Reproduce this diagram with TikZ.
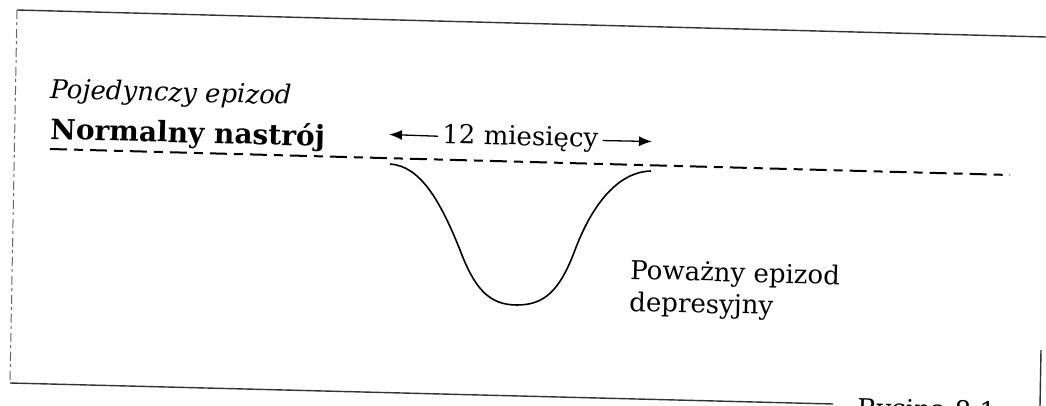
\documentclass[tikz,border=0pt]{standalone}
\usepackage{fontspec}
\setmainfont{DejaVu Serif}
\usetikzlibrary{arrows.meta}
\tikzset{
  txt/.style={inner sep=0pt, rotate=-1.5, anchor=base west, font=\fontsize{26}{30}\selectfont},
  border/.style={line width=1.4pt, black!80},
  faint/.style={line width=1pt, black!60, dash pattern=on 9pt off 3pt on 3pt off 4pt},
  baseline dash/.style={line width=2pt, dash pattern=on 17pt off 7pt on 9pt off 7pt},
  span arrow/.style={line width=1.3pt, -{Latex[length=13pt,width=10pt]}},
  curve/.style={line width=1.6pt}
}
\begin{document}
\begin{tikzpicture}[x=1pt,y=-1pt]
\useasboundingbox (0,0) rectangle (1046,406);
\clip (0,0) rectangle (1046,406);
% frame (scanned page edges)
\coordinate (tl) at (17,10);
\coordinate (tr) at (1046,37);
\coordinate (bl) at (10,383);
\coordinate (br) at (833,404);
\coordinate (rt) at (1041,350);
\coordinate (rb) at (1040,406);
\draw[border] (tl) -- (tr);
\draw[faint] (tl) -- (bl);
\draw[border] (bl) -- (br);
\draw[border] (rt) -- (rb);
% texts
\node[txt, font=\fontsize{26}{30}\selectfont\itshape] (title) at (50,98) {Pojedynczy epizod};
\node[txt, font=\fontsize{28}{32}\selectfont\bfseries] (normal) at (50,139) {Normalny nastrój};
\node[txt, inner xsep=4pt] (months) at (438,143) {12 miesięcy};
\node[txt] (major1) at (630,279) {Poważny epizod};
\node[txt] (major2) at (629,311) {depresyjny};
\node[txt] (fig) at (857,417) {Rycina 8.1};
% normal mood line
\coordinate (dl) at (50,149);
\coordinate (dr) at (1010,175);
\draw[baseline dash] (dl) -- (dr);
% 12 months arrows
\coordinate (al) at (389,134.5);
\coordinate (ar) at (652,141.5);
\draw[span arrow] (months.west) -- (al);
\draw[span arrow] (months.east) -- (ar);
% depressive episode curve
\coordinate (c0) at (390,164);
\coordinate (c1) at (460,250);
\coordinate (c2) at (517,305);
\coordinate (c3) at (575,250);
\coordinate (c4) at (651,171);
\draw[curve] (c0) .. controls (420,166) and (440,200) .. (c1)
  .. controls (475,290) and (490,305) .. (c2)
  .. controls (545,305) and (560,290) .. (c3)
  .. controls (590,210) and (615,172) .. (c4);
\end{tikzpicture}
\end{document}
